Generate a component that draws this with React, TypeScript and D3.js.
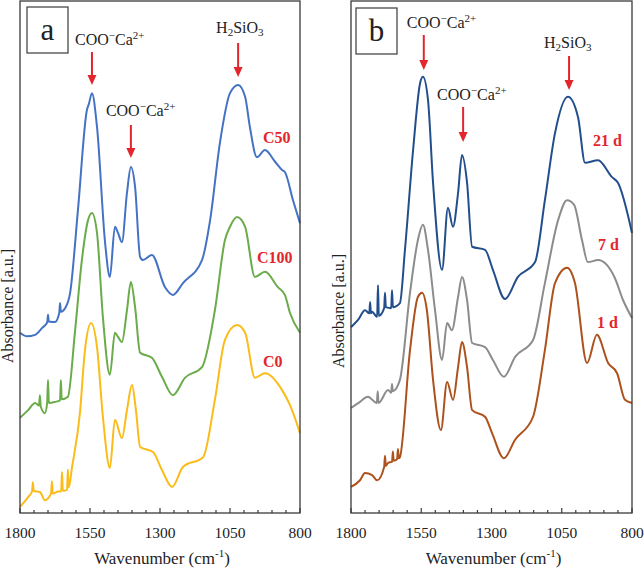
import React, { useEffect, useRef } from 'react';
import * as d3 from 'd3';

type Pt = [number, number];

// x ticks (wavenumber, cm-1)
const majorTicks = [1800, 1550, 1300, 1050, 800];
const minorTicks = d3.range(800, 1801, 50);

// panel a spectra: [wavenumber, absorbance a.u.]
const c50: Pt[] = [
  [1800, 3.52], [1775, 3.45], [1746, 3.48], [1720, 3.62], [1703, 3.72], [1700, 3.87], [1697, 3.74],
  [1675, 3.73], [1660, 3.9], [1657, 4.1], [1654, 3.93], [1639, 4.0], [1621, 4.3], [1593, 5.92],
  [1561, 7.87], [1554, 7.99], [1543, 8.2], [1525, 7.54], [1496, 5.27], [1479, 4.61], [1461, 5.59],
  [1450, 5.47], [1436, 5.29], [1418, 6.25], [1404, 6.76], [1389, 6.37], [1371, 5.0], [1361, 4.94],
  [1329, 5.04], [1282, 4.41], [1254, 4.26], [1218, 4.49], [1150, 4.94], [1121, 5.72], [1086, 7.23],
  [1050, 8.2], [1021, 8.36], [996, 8.13], [979, 7.54], [954, 6.95], [925, 7.09], [889, 6.86],
  [864, 6.7], [854, 6.66], [825, 6.11], [800, 5.66],
];
const c100: Pt[] = [
  [1800, 1.86], [1771, 2.01], [1746, 2.15], [1732, 2.1], [1729, 2.3], [1726, 2.08], [1711, 1.95],
  [1703, 2.15], [1700, 2.6], [1697, 2.15], [1675, 2.17], [1657, 2.2], [1654, 2.6], [1651, 2.22],
  [1629, 2.27], [1604, 3.52], [1579, 4.94], [1557, 5.72], [1543, 5.86], [1525, 5.47], [1504, 3.83],
  [1479, 2.7], [1461, 3.52], [1450, 3.44], [1436, 3.34], [1418, 3.96], [1404, 4.51], [1389, 4.02],
  [1371, 3.13], [1329, 3.03], [1293, 2.66], [1254, 2.3], [1211, 2.64], [1150, 2.85], [1104, 3.96],
  [1068, 5.33], [1050, 5.59], [1025, 5.78], [996, 5.59], [961, 4.61], [925, 4.71], [879, 4.41],
  [854, 4.26], [836, 3.91], [800, 3.52],
];
const c0: Pt[] = [
  [1800, 0.12], [1771, 0.31], [1757, 0.42], [1754, 0.6], [1751, 0.43], [1729, 0.41], [1711, 0.25],
  [1689, 0.38], [1686, 0.62], [1683, 0.38], [1664, 0.42], [1653, 0.42], [1650, 0.8], [1647, 0.43],
  [1632, 0.45], [1629, 0.85], [1626, 0.5], [1614, 0.9], [1586, 1.95], [1568, 3.18], [1546, 3.71],
  [1525, 3.24], [1504, 1.88], [1479, 0.88], [1461, 1.82], [1436, 1.46], [1418, 2.01], [1400, 2.5],
  [1386, 2.01], [1371, 1.29], [1325, 1.19], [1293, 0.84], [1257, 0.51], [1218, 0.9], [1146, 1.09],
  [1104, 2.21], [1068, 3.38], [1025, 3.67], [996, 3.52], [961, 2.64], [925, 2.73], [864, 2.4],
  [836, 2.11], [800, 1.56],
];

// panel b spectra
const d21: Pt[] = [
  [1800, 3.63], [1775, 3.77], [1750, 3.96], [1735, 3.9], [1732, 4.12], [1729, 3.9], [1725, 3.93],
  [1707, 3.83], [1704, 4.45], [1701, 3.85], [1682, 4.0], [1679, 4.3], [1676, 4.02], [1657, 4.0],
  [1654, 4.35], [1651, 4.02], [1626, 4.1], [1608, 5.14], [1579, 7.09], [1554, 8.4], [1544, 8.52],
  [1526, 8.07], [1508, 6.45], [1476, 4.75], [1455, 5.96], [1437, 5.59], [1419, 6.25], [1405, 6.99],
  [1387, 6.45], [1369, 5.2], [1323, 5.14], [1295, 4.75], [1252, 4.18], [1206, 4.61], [1145, 4.9],
  [1110, 6.11], [1074, 7.42], [1028, 8.13], [992, 7.73], [967, 6.84], [921, 6.89], [871, 6.56],
  [850, 6.45], [800, 5.47],
];
const d7: Pt[] = [
  [1800, 2.05], [1768, 2.17], [1740, 2.27], [1708, 2.15], [1705, 2.38], [1702, 2.15], [1668, 2.4],
  [1657, 2.35], [1654, 2.52], [1651, 2.38], [1626, 2.6], [1590, 4.3], [1562, 5.33], [1544, 5.63],
  [1526, 5.14], [1501, 3.96], [1476, 2.99], [1458, 3.71], [1441, 3.57], [1419, 4.22], [1405, 4.61],
  [1387, 4.16], [1369, 3.32], [1323, 3.24], [1295, 2.99], [1256, 2.66], [1216, 3.05], [1152, 3.38],
  [1110, 4.49], [1063, 5.72], [1031, 6.11], [1006, 6.02], [978, 5.33], [957, 4.9], [921, 4.94],
  [861, 4.59], [832, 4.16], [800, 3.81],
];
const d1: Pt[] = [
  [1800, 0.51], [1768, 0.64], [1750, 0.78], [1725, 0.74], [1707, 0.64], [1682, 0.9], [1679, 1.12],
  [1676, 0.92], [1668, 0.98], [1654, 1.0], [1651, 1.2], [1648, 1.02], [1636, 1.05], [1633, 1.25],
  [1630, 1.07], [1626, 1.09], [1590, 3.18], [1562, 4.22], [1547, 4.3], [1530, 3.96], [1508, 2.6],
  [1480, 1.62], [1458, 2.56], [1437, 2.21], [1419, 2.85], [1405, 3.34], [1387, 2.85], [1369, 2.01],
  [1323, 1.88], [1298, 1.56], [1256, 1.07], [1216, 1.43], [1152, 1.88], [1110, 3.18], [1074, 4.49],
  [1031, 4.79], [1003, 4.49], [960, 2.93], [925, 3.48], [885, 2.93], [853, 2.73], [825, 2.21],
  [800, 2.15],
];

const RED = '#e3262d';
const SERIF = 'Liberation Serif, Times New Roman, DejaVu Serif, serif';

interface Series { name: string; data: Pt[]; color: string; lx: number; ly: number; }
interface Note { kind: 'coo' | 'si'; wn: number; textDx: number; baseline: number; y1: number; y2: number; }
interface PanelDef {
  tag: string; left: number; right: number; boxX: number; boxY: number;
  ylabelX: number; ylabelY: number; series: Series[]; notes: Note[];
}

const panels: PanelDef[] = [
  {
    tag: 'a', left: 20, right: 300, boxX: 27, boxY: 7, ylabelX: 13, ylabelY: 306,
    series: [
      { name: 'C50', data: c50, color: '#4472c4', lx: 263, ly: 143 },
      { name: 'C100', data: c100, color: '#6aab4a', lx: 257, ly: 263 },
      { name: 'C0', data: c0, color: '#fbbc1a', lx: 263, ly: 367 },
    ],
    notes: [
      { kind: 'coo', wn: 1543, textDx: -17, baseline: 45, y1: 52, y2: 85 },
      { kind: 'coo', wn: 1404, textDx: -25, baseline: 116, y1: 125, y2: 158 },
      { kind: 'si', wn: 1021, textDx: -22, baseline: 33, y1: 43, y2: 77 },
    ],
  },
  {
    tag: 'b', left: 351, right: 632, boxX: 356, boxY: 8, ylabelX: 344, ylabelY: 311,
    series: [
      { name: '21 d', data: d21, color: '#234e8c', lx: 593, ly: 146 },
      { name: '7 d', data: d7, color: '#8c8c8c', lx: 598, ly: 250 },
      { name: '1 d', data: d1, color: '#ad521c', lx: 597, ly: 328 },
    ],
    notes: [
      { kind: 'coo', wn: 1541, textDx: -17, baseline: 28, y1: 35, y2: 70 },
      { kind: 'coo', wn: 1401, textDx: -26, baseline: 100, y1: 107, y2: 142 },
      { kind: 'si', wn: 1024, textDx: -25, baseline: 48, y1: 56, y2: 90 },
    ],
  },
];

const TOP = 1;
const BOTTOM = 513;

const App: React.FC = () => {
  const svgRef = useRef<SVGSVGElement | null>(null);

  useEffect(() => {
    if (!svgRef.current) return;
    const svg = d3.select(svgRef.current);
    svg.selectAll('*').remove();

    const y = d3.scaleLinear().domain([0, 10]).range([BOTTOM, TOP]);

    panels.forEach((p) => {
      const x = d3.scaleLinear().domain([1800, 800]).range([p.left, p.right]);
      const g = svg.append('g');

      // spectra
      const line = d3
        .line<Pt>()
        .x((d) => x(d[0]))
        .y((d) => y(d[1]))
        .curve(d3.curveMonotoneX);

      p.series.forEach((s) => {
        g.append('path')
          .attr('d', line(s.data) as string)
          .attr('fill', 'none')
          .attr('stroke', s.color)
          .attr('stroke-width', 2)
          .attr('stroke-linejoin', 'round');

        g.append('text')
          .attr('x', s.lx)
          .attr('y', s.ly)
          .attr('fill', RED)
          .style('font-family', SERIF)
          .attr('font-weight', 'bold')
          .attr('font-size', 16)
          .text(s.name);
      });

      // frame
      g.append('rect')
        .attr('x', p.left)
        .attr('y', TOP)
        .attr('width', p.right - p.left)
        .attr('height', BOTTOM - TOP)
        .attr('fill', 'none')
        .attr('stroke', '#3a3a3a')
        .attr('stroke-width', 1.3);

      // ticks (inward)
      g.selectAll('line.minor')
        .data(minorTicks)
        .enter()
        .append('line')
        .attr('x1', (d) => x(d))
        .attr('x2', (d) => x(d))
        .attr('y1', BOTTOM)
        .attr('y2', (d) => (majorTicks.includes(d) ? BOTTOM - 5 : BOTTOM - 3))
        .attr('stroke', '#3a3a3a')
        .attr('stroke-width', 1.2);

      g.selectAll('text.tick')
        .data(majorTicks)
        .enter()
        .append('text')
        .attr('x', (d) => x(d))
        .attr('y', 538)
        .attr('text-anchor', 'middle')
        .style('font-family', SERIF)
        .attr('font-size', 15.5)
        .attr('fill', '#222')
        .text((d) => d);

      // x title
      const xt = g
        .append('text')
        .attr('x', (p.left + p.right) / 2 + 2)
        .attr('y', 564)
        .attr('text-anchor', 'middle')
        .style('font-family', SERIF)
        .attr('font-size', 17)
        .attr('fill', '#222');
      xt.append('tspan').text('Wavenumber (cm');
      xt.append('tspan').attr('font-size', 11).attr('dy', -7).text('-1');
      xt.append('tspan').attr('dy', 7).text(')');

      // y title
      g.append('text')
        .attr('transform', `translate(${p.ylabelX},${p.ylabelY}) rotate(-90)`)
        .attr('text-anchor', 'middle')
        .style('font-family', SERIF)
        .attr('font-size', 16)
        .attr('fill', '#222')
        .text('Absorbance [a.u.]');

      // panel tag box
      g.append('rect')
        .attr('x', p.boxX)
        .attr('y', p.boxY)
        .attr('width', 41)
        .attr('height', 46)
        .attr('fill', '#fff')
        .attr('stroke', '#3a3a3a')
        .attr('stroke-width', 1.2);
      g.append('text')
        .attr('x', p.boxX + 20.5)
        .attr('y', p.boxY + 33)
        .attr('text-anchor', 'middle')
        .style('font-family', SERIF)
        .attr('font-size', 31)
        .attr('fill', '#222')
        .text(p.tag);

      // peak notes with arrows
      p.notes.forEach((n) => {
        const ax = x(n.wn);
        const t = g
          .append('text')
          .attr('x', ax + n.textDx)
          .attr('y', n.baseline)
          .style('font-family', SERIF)
          .attr('font-size', 16)
          .attr('fill', '#222');
        if (n.kind === 'coo') {
          t.append('tspan').text('COO');
          t.append('tspan').attr('font-size', 11).attr('dy', -6).text('\u2212');
          t.append('tspan').attr('dy', 6).text('Ca');
          t.append('tspan').attr('font-size', 11).attr('dy', -6).text('2+');
        } else {
          t.append('tspan').text('H');
          t.append('tspan').attr('font-size', 11).attr('dy', 3).text('2');
          t.append('tspan').attr('dy', -3).text('SiO');
          t.append('tspan').attr('font-size', 11).attr('dy', 3).text('3');
        }
        g.append('line')
          .attr('x1', ax)
          .attr('x2', ax)
          .attr('y1', n.y1)
          .attr('y2', n.y2 - 8)
          .attr('stroke', RED)
          .attr('stroke-width', 2);
        g.append('path')
          .attr('d', `M${ax - 4.5},${n.y2 - 10}L${ax + 4.5},${n.y2 - 10}L${ax},${n.y2}Z`)
          .attr('fill', RED);
      });
    });
  }, []);

  return (
    <div style={{ position: 'absolute', left: 0, top: 0, background: '#fff' }}>
      <svg ref={svgRef} width={644} height={570} style={{ display: 'block' }} />
    </div>
  );
};

export default App;
